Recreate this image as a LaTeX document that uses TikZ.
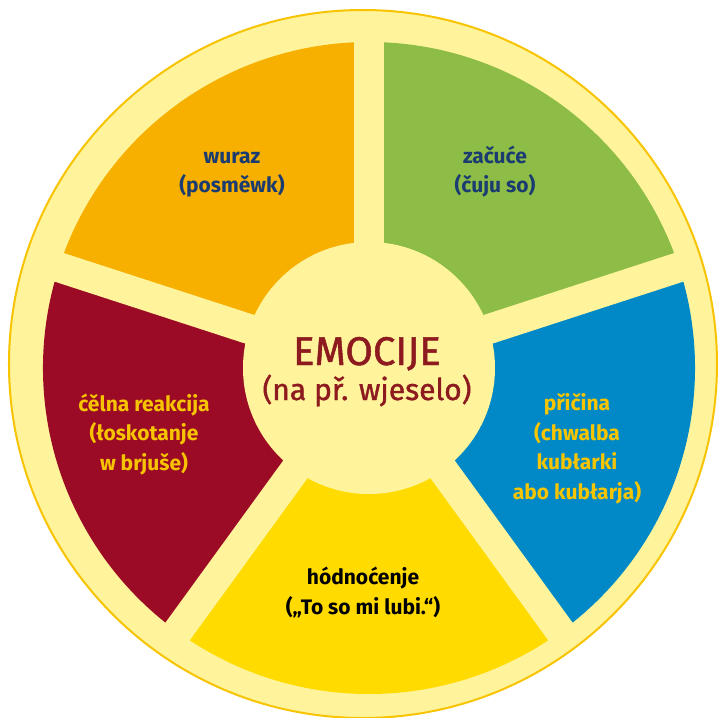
\documentclass[tikz,border=0pt]{standalone}
\usepackage{fontspec}
\setmainfont{Fira Sans}
\newfontfamily\emofont[FakeBold=1.2]{Fira Sans}
\usepackage{tikz}

\definecolor{ringyellow}{HTML}{FFF49C}
\definecolor{ringgold}{HTML}{F8C300}
\definecolor{segorange}{HTML}{F7B000}
\definecolor{seggreen}{HTML}{8DBD46}
\definecolor{segblue}{HTML}{0089C6}
\definecolor{segred}{HTML}{9C0B25}
\definecolor{segyellow}{HTML}{FFDB00}
\definecolor{txtnavy}{HTML}{1B3C70}
\definecolor{txtred}{HTML}{8C1A1E}
\definecolor{txtgold}{HTML}{F6C400}

\begin{document}
\begin{tikzpicture}[x=1pt, y=1pt,
    lbl/.style={align=center, inner sep=0pt, anchor=base, font=\bfseries\fontsize{21}{29.5}\selectfont},
    gap/.style={ringyellow, line width=30pt}]
            \useasboundingbox (-369,-350) rectangle (349,368);
            % outer ring
            \draw[ringgold, line width=2pt, fill=ringyellow] (-6,4) circle[radius=354];
            % the five segments
            \fill[segorange] (0,0) -- (90:326) arc[start angle=90, end angle=162, radius=326] -- cycle;
            \fill[segred] (0,0) -- (162:326) arc[start angle=162, end angle=234, radius=326] -- cycle;
            \fill[segyellow] (0,0) -- (234:326) arc[start angle=234, end angle=306, radius=326] -- cycle;
            \fill[segblue] (0,0) -- (306:326) arc[start angle=306, end angle=378, radius=326] -- cycle;
            \fill[seggreen] (0,0) -- (18:326) arc[start angle=18, end angle=90, radius=326] -- cycle;
            \foreach \a in {18,90,162,234,306}
                \draw[gap] (0,0) -- (\a:338);
            \fill[ringyellow] (0,0) circle[radius=126];

            % base anchor sits on the last line
            \draw (-2,-32) node[align=center, inner sep=0pt, anchor=base, text=txtred,
                font=\emofont\fontsize{30}{35}\selectfont] (emocije)
                {{\fontsize{40}{40}\selectfont EMOCIJE}\\(na př. wjeselo)};
            \draw (-137,175) node[lbl, text=txtnavy] (wuraz) {wuraz\\(posměwk)};
            \draw (126,175) node[lbl, text=txtnavy] (zacuce) {začuće\\(čuju so)};
            \draw (-225,-102) node[lbl, text=txtgold] (celna) {ćělna reakcija\\(łoskotanje\\w brjuše)};
            \draw (208,-131) node[lbl, text=txtgold] (pricina) {přičina\\(chwalba\\kubłarki\\abo kubłarja)};
            \draw (-6,-246) node[lbl, text=black] (hodnocenje) {hódnoćenje\\(„To so mi lubi.“)};
\end{tikzpicture}
\end{document}
